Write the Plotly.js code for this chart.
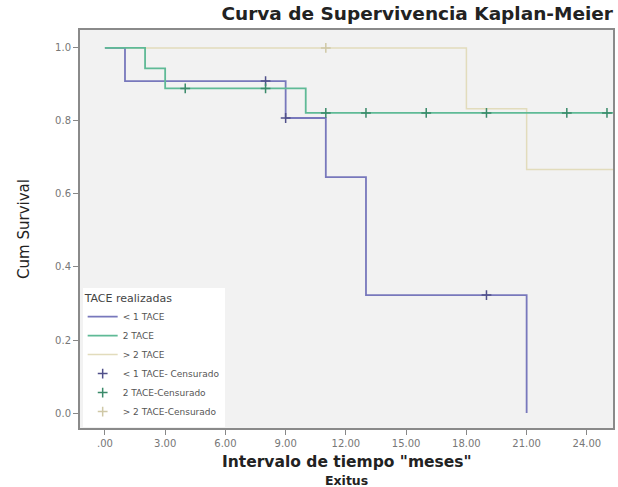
<!DOCTYPE html>
<html>
<head>
<meta charset="utf-8">
<script src="https://cdn.plot.ly/plotly-3.0.1.min.js"></script>
<style>html,body{margin:0;padding:0;background:#fff;}#chart{width:618px;height:487px;}</style>
</head>
<body>
<div id="chart"></div>
<script>
// Kaplan-Meier step curves (time in months, cumulative survival)
var t1 = [0, 1, 9, 11, 13, 21];
var s1 = [1.0, 0.909, 0.808, 0.646, 0.323, 0.0];
var t2 = [0, 2, 3, 10, 25.3];
var s2 = [1.0, 0.944, 0.889, 0.822, 0.822];
var t3 = [0, 18, 21, 25.3];
var s3 = [1.0, 0.833, 0.667, 0.667];
// Censored observations
var c1t = [8, 9, 19];
var c1s = [0.909, 0.808, 0.323];
var c2t = [4, 8, 11, 13, 16, 19, 23, 25];
var c2s = [0.889, 0.889, 0.822, 0.822, 0.822, 0.822, 0.822, 0.822];
var c3t = [11];
var c3s = [1.0];
// Axis ticks
var xTickVals = [0, 3, 6, 9, 12, 15, 18, 21, 24];
var xTickText = [".00", "3.00", "6.00", "9.00", "12.00", "15.00", "18.00", "21.00", "24.00"];
var yTickVals = [0, 0.2, 0.4, 0.6, 0.8, 1.0];
var yTickText = ["0.0", "0.2", "0.4", "0.6", "0.8", "1.0"];
var names = ["< 1 TACE", "2 TACE", "> 2 TACE", "< 1 TACE- Censurado", "2 TACE-Censurado", "> 2 TACE-Censurado"];

var cBlue = "#7878bc", cGreen = "#5fba96", cPale = "#e2dcbc";

var traces = [
  {x: t3, y: s3, mode: "lines", line: {shape: "hv", color: cPale, width: 1.5}, name: names[2], legendrank: 3},
  {x: t1, y: s1, mode: "lines", line: {shape: "hv", color: cBlue, width: 1.8}, name: names[0], legendrank: 1},
  {x: t2, y: s2, mode: "lines", line: {shape: "hv", color: cGreen, width: 1.8}, name: names[1], legendrank: 2},
  {x: c1t, y: c1s, mode: "markers", marker: {symbol: "cross-thin-open", size: 7, color: "#50508a", line: {width: 1.5}}, name: names[3], legendrank: 4},
  {x: c2t, y: c2s, mode: "markers", marker: {symbol: "cross-thin-open", size: 7, color: "#3a8a6a", line: {width: 1.5}}, name: names[4], legendrank: 5},
  {x: c3t, y: c3s, mode: "markers", marker: {symbol: "cross-thin-open", size: 7, color: "#cfc8a6", line: {width: 1.5}}, name: names[5], legendrank: 6}
];

var layout = {
  width: 618, height: 487,
  margin: {l: 80, r: 5, t: 30, b: 59},
  paper_bgcolor: "#ffffff",
  plot_bgcolor: "#f2f2f2",
  font: {family: "DejaVu Sans, sans-serif", color: "#444"},
  title: {
    text: "Curva de Supervivencia Kaplan-Meier",
    font: {family: "DejaVu Sans, sans-serif", size: 18.5, weight: "bold", color: "#222"},
    x: 1, xref: "paper", xanchor: "right",
    y: 0.972, yref: "container", yanchor: "middle"
  },
  xaxis: {
    range: [-1.24, 25.3],
    tickvals: xTickVals, ticktext: xTickText,
    tickfont: {size: 10, color: "#777"},
    ticks: "outside", ticklen: 5, tickcolor: "#888", tickwidth: 1,
    showgrid: false, zeroline: false,
    showline: true, linecolor: "#8a8a8a", linewidth: 2, mirror: true
  },
  yaxis: {
    range: [-0.041, 1.049],
    tickvals: yTickVals, ticktext: yTickText,
    tickfont: {size: 10, color: "#777"},
    ticks: "outside", ticklen: 5, tickcolor: "#888", tickwidth: 1,
    showgrid: false, zeroline: false,
    showline: true, linecolor: "#8a8a8a", linewidth: 2, mirror: true,
    title: {text: "Cum Survival", font: {size: 15, color: "#222"}, standoff: 22}
  },
  annotations: [
    {text: 'Intervalo de tiempo "meses"', xref: "paper", yref: "paper", x: 0.5, y: -0.086,
     xanchor: "center", yanchor: "middle", showarrow: false,
     font: {size: 15.5, weight: "bold", color: "#222"}},
    {text: "Exitus", xref: "paper", yref: "paper", x: 0.5, y: -0.131,
     xanchor: "center", yanchor: "middle", showarrow: false,
     font: {size: 12.5, weight: "bold", color: "#222"}}
  ],
  showlegend: true,
  legend: {
    x: 0.005, y: 0.003, xanchor: "left", yanchor: "bottom",
    bgcolor: "#ffffff",
    font: {size: 9, color: "#555"},
    title: {text: "TACE realizadas", font: {size: 11, color: "#444"}},
    tracegroupgap: 0,
    itemwidth: 30
  }
};

Plotly.newPlot("chart", traces, layout, {displayModeBar: false, staticPlot: true});
</script>
</body>
</html>
